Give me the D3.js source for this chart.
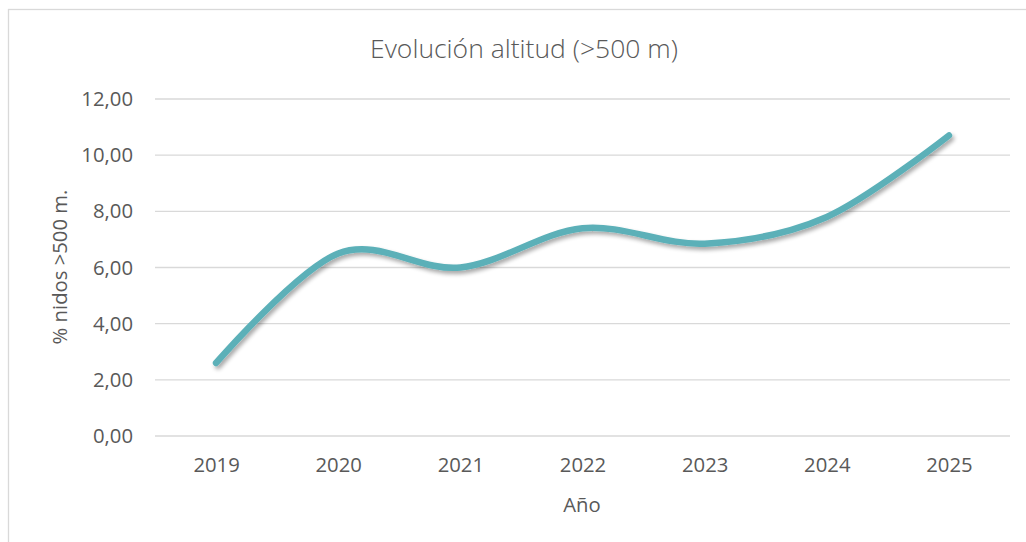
<!DOCTYPE html>
<html>
<head>
<meta charset="utf-8">
<script src="https://cdn.jsdelivr.net/npm/d3@7"></script>
<style>
  html, body { margin: 0; padding: 0; background: #fff; }
  svg { display: block; }
  text { font-family: "Open Sans", "Noto Sans", sans-serif; fill: #595959; }
</style>
</head>
<body>
<svg id="chart" width="1026" height="542"></svg>
<script>
// Chart data
const years = ["2019", "2020", "2021", "2022", "2023", "2024", "2025"];
const pctNests = [2.6, 6.5, 6.0, 7.4, 6.85, 7.8, 10.7];
const yTicks = [0, 2, 4, 6, 8, 10, 12];

const titleText = "Evolución altitud (>500 m)";
const xTitle = "Año";
const yTitle = "% nidos >500 m.";

const svg = d3.select("#chart");
const W = 1026, H = 542;
const plot = { left: 155, right: 1010, top: 99, bottom: 436 };
const labelSize = 20.3;

// Outer chart frame
svg.append("rect")
  .attr("x", 8.5).attr("y", 9.5)
  .attr("width", W + 20).attr("height", H + 20)
  .attr("fill", "#fff").attr("stroke", "#d9d9d9").attr("stroke-width", 1.3);

const x = d3.scalePoint().domain(years).range([plot.left, plot.right]).padding(0.5);
const y = d3.scaleLinear().domain([0, 12]).range([plot.bottom, plot.top]);

const fmt = v => d3.format(".2f")(v).replace(".", ",");

// Horizontal gridlines
svg.append("g").selectAll("line").data(yTicks).join("line")
  .attr("x1", plot.left).attr("x2", plot.right)
  .attr("y1", d => y(d)).attr("y2", d => y(d))
  .attr("stroke", "#d9d9d9").attr("stroke-width", 1.3);

// Y axis labels
const yAxis = d3.axisLeft(y).tickValues(yTicks).tickFormat(fmt).tickSize(0).tickPadding(0);
const gy = svg.append("g").attr("transform", `translate(${plot.left - 22},0)`).call(yAxis);
gy.select(".domain").remove();
gy.attr("font-size", labelSize).attr("font-family", null);
gy.selectAll("text").attr("fill", "#595959");

// X axis labels
const xAxis = d3.axisBottom(x).tickSize(0).tickPadding(0);
const gx = svg.append("g").attr("transform", `translate(0,${plot.bottom + 22})`).call(xAxis);
gx.select(".domain").remove();
gx.attr("font-size", labelSize).attr("font-family", null);
gx.selectAll("text").attr("fill", "#595959");

// Titles
svg.append("text").attr("x", 524).attr("y", 58).attr("text-anchor", "middle")
  .attr("font-size", 26.5).attr("font-weight", 300).text(titleText);
svg.append("text").attr("x", 582).attr("y", 512).attr("text-anchor", "middle")
  .attr("font-size", labelSize).text(xTitle);
svg.append("text")
  .attr("transform", `translate(67,267) rotate(-90)`)
  .attr("text-anchor", "middle").attr("font-size", labelSize).text(yTitle);

// Soft drop shadow under the line
const defs = svg.append("defs");
const f = defs.append("filter").attr("id", "shadow")
  .attr("x", "-10%").attr("y", "-10%").attr("width", "120%").attr("height", "130%");
f.append("feGaussianBlur").attr("in", "SourceAlpha").attr("stdDeviation", 2.2).attr("result", "b");
f.append("feOffset").attr("in", "b").attr("dx", 2).attr("dy", 3).attr("result", "o");
f.append("feComponentTransfer").attr("in", "o").attr("result", "s")
  .append("feFuncA").attr("type", "linear").attr("slope", 0.35);
const m = f.append("feMerge");
m.append("feMergeNode").attr("in", "s");
m.append("feMergeNode").attr("in", "SourceGraphic");

const line = d3.line()
  .x((d, i) => x(years[i]))
  .y(d => y(d))
  .curve(d3.curveCardinal.tension(0));

svg.append("path").datum(pctNests)
  .attr("d", line)
  .attr("fill", "none")
  .attr("stroke", "#5bb0b8")
  .attr("stroke-width", 6.5)
  .attr("stroke-linecap", "round")
  .attr("stroke-linejoin", "round")
  .attr("filter", "url(#shadow)");
</script>
</body>
</html>
